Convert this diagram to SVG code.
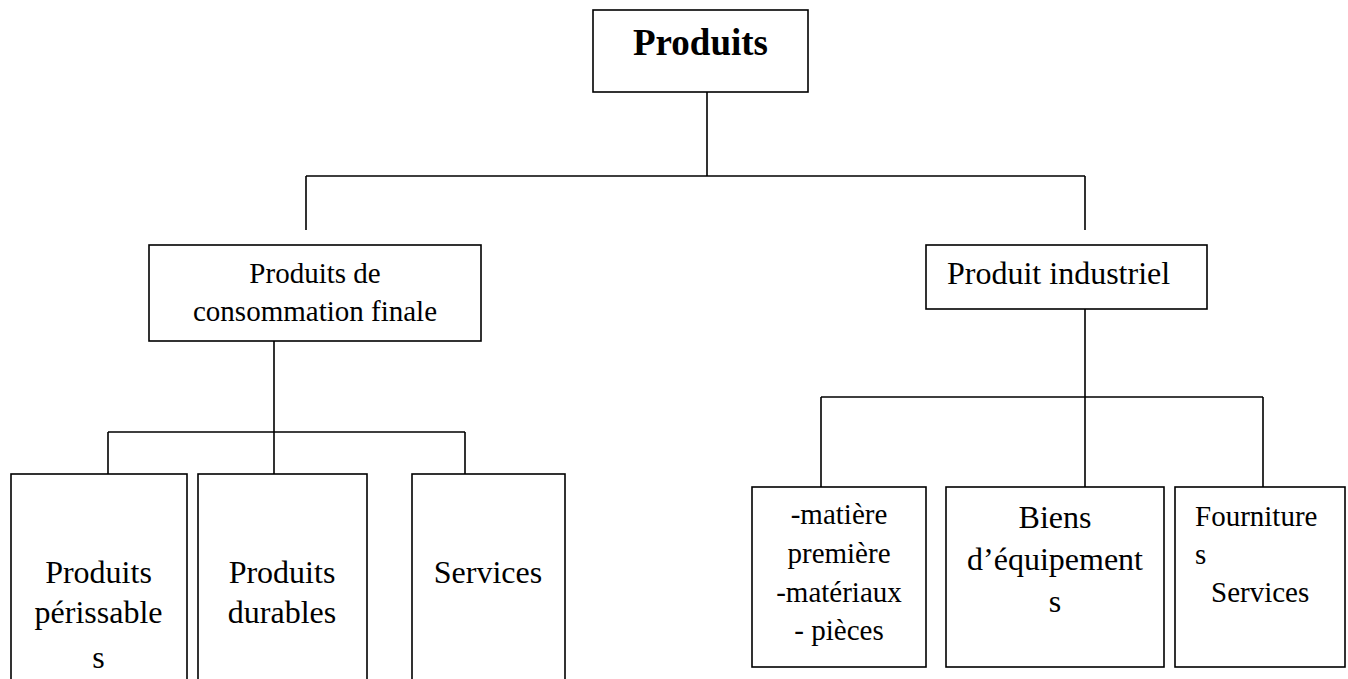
<svg xmlns="http://www.w3.org/2000/svg" width="1348" height="679" viewBox="0 0 1348 679">
  <style>
    .box { fill: #ffffff; stroke: #000000; stroke-width: 1.6; }
    .link { fill: none; stroke: #000000; stroke-width: 1.6; }
    text { font-family: "Liberation Serif", "Times New Roman", serif; fill: #000000; }
    .title { font-weight: bold; font-size: 37px; }
    .mid { font-size: 29px; }
    .big { font-size: 32px; }
  </style>
  <rect x="0" y="0" width="1348" height="679" fill="#ffffff"/>

  <!-- connectors -->
  <g id="connectors">
    <path class="link" d="M707,92 V176 M306,176 H1085 M306,176 V230 M1085,176 V230"/>
    <path class="link" d="M274,341 V432 M108,432 H465 M108,432 V474 M274,432 V474 M465,432 V474"/>
    <path class="link" d="M1085,309 V487 M821,397 H1263 M821,397 V487 M1263,397 V487"/>
  </g>

  <!-- root -->
  <g id="produits">
    <rect class="box" x="593" y="10" width="215" height="82"/>
    <text class="title" x="700.5" y="55" text-anchor="middle">Produits</text>
  </g>

  <!-- first level -->
  <g id="consommation-finale">
    <rect class="box" x="149" y="245" width="332" height="96"/>
    <text class="mid" x="315" y="283" text-anchor="middle">Produits de</text>
    <text class="mid" x="315" y="321" text-anchor="middle">consommation finale</text>
  </g>

  <g id="produit-industriel">
    <rect class="box" x="926" y="245" width="281" height="64"/>
    <text class="big" x="947" y="284">Produit industriel</text>
  </g>

  <!-- consumer products -->
  <g id="perissables">
    <rect class="box" x="11" y="474" width="176" height="220"/>
    <text class="big" x="98.5" y="583" text-anchor="middle">Produits</text>
    <text class="big" x="98.5" y="623" text-anchor="middle">périssable</text>
    <text class="big" x="98.5" y="668" text-anchor="middle">s</text>
  </g>

  <g id="durables">
    <rect class="box" x="198" y="474" width="169" height="220"/>
    <text class="big" x="282" y="583" text-anchor="middle">Produits</text>
    <text class="big" x="282" y="623" text-anchor="middle">durables</text>
  </g>

  <g id="services">
    <rect class="box" x="412" y="474" width="153" height="220"/>
    <text class="big" x="488" y="583" text-anchor="middle">Services</text>
  </g>

  <!-- industrial products -->
  <g id="matieres">
    <rect class="box" x="752" y="487" width="174" height="180"/>
    <text class="mid" x="839" y="524" text-anchor="middle">-matière</text>
    <text class="mid" x="839" y="563" text-anchor="middle">première</text>
    <text class="mid" x="839" y="602" text-anchor="middle">-matériaux</text>
    <text class="mid" x="839" y="640" text-anchor="middle">- pièces</text>
  </g>

  <g id="equipements">
    <rect class="box" x="946" y="487" width="218" height="180"/>
    <text class="big" x="1055" y="528" text-anchor="middle">Biens</text>
    <text class="big" x="1055" y="570" text-anchor="middle">d’équipement</text>
    <text class="big" x="1055" y="612" text-anchor="middle">s</text>
  </g>

  <g id="fournitures">
    <rect class="box" x="1175" y="487" width="170" height="180"/>
    <text class="mid" x="1195" y="526">Fourniture</text>
    <text class="mid" x="1195" y="564">s</text>
    <text class="mid" x="1211" y="602">Services</text>
  </g>
</svg>
